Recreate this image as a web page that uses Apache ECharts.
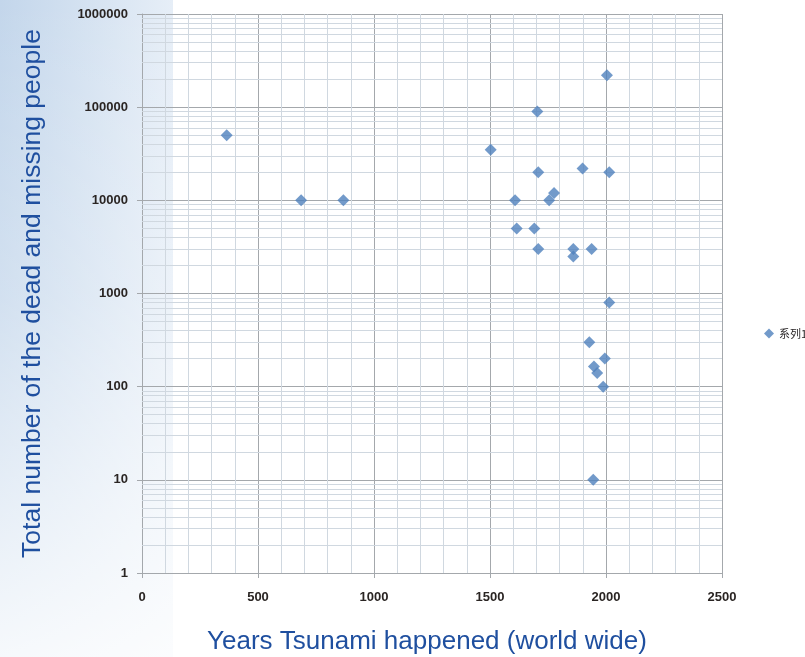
<!DOCTYPE html>
<html>
<head>
<meta charset="utf-8">
<script src="https://cdn.jsdelivr.net/npm/echarts@6/dist/echarts.min.js"></script>
<style>
html,body{margin:0;padding:0;background:#fff;}
#c{width:805px;height:657px;}
</style>
</head>
<body>
<div id="c"></div>
<script>
// Data
const seriesName = '系列1';
const years  = [365, 686, 868, 1503, 1608, 1615, 1691, 1704, 1708, 1708, 1755, 1776, 1859, 1859, 1899, 1928, 1938, 1945, 1948, 1962, 1988, 1995, 2004, 2014, 2014];
const deaths = [50000, 10000, 10000, 35000, 10000, 5000, 5000, 90000, 20000, 3000, 10000, 12000, 3000, 2500, 22000, 300, 3000, 10, 165, 140, 100, 200, 220000, 20000, 800];
const xTickLabels = ['0', '500', '1000', '1500', '2000', '2500'];
const yTickLabels = ['1', '10', '100', '1000', '10000', '100000', '1000000'];
const minorMultipliers = [2, 3, 4, 5, 6, 7, 8, 9];
const xTitle = 'Years Tsunami happened (world wide)';
const yTitle = 'Total number of the dead and missing people';

const points = years.map((y, i) => [y, deaths[i]]);

const minorY = [];
for (let k = 0; k < yTickLabels.length - 1; k++) {
  const base = Number(yTickLabels[k]);
  minorMultipliers.forEach(m => minorY.push({ yAxis: m * base }));
}

const chart = echarts.init(document.getElementById('c'), null, { renderer: 'canvas' });
const tickFont = { fontFamily: 'Liberation Sans, Arial, sans-serif', fontSize: 13, fontWeight: 'bold', color: '#2a2523' };
const titleFont = { fontFamily: 'Liberation Sans, Arial, sans-serif', fontSize: 26, color: '#1f4f9f' };
const majorColor = '#a4a8ac';
const minorColor = '#d0d8e0';

chart.setOption({
  animation: false,
  backgroundColor: '#ffffff',
  graphic: {
    elements: [
      {
        type: 'rect', z: -100, silent: true,
        shape: { x: 0, y: 0, width: 173, height: 657 },
        style: {
          fill: new echarts.graphic.LinearGradient(0, 0, 1, 0, [
            { offset: 0, color: '#c3d6eb' },
            { offset: 1, color: '#e6eef7' }
          ])
        }
      },
      {
        type: 'rect', z: -99, silent: true,
        shape: { x: 0, y: 0, width: 173, height: 657 },
        style: {
          fill: new echarts.graphic.LinearGradient(0, 0, 0, 1, [
            { offset: 0, color: 'rgba(255,255,255,0)' },
            { offset: 0.45, color: 'rgba(255,255,255,0.25)' },
            { offset: 1, color: 'rgba(255,255,255,0.85)' }
          ])
        }
      }
    ]
  },
  grid: { left: 142, right: 83, top: 14, bottom: 84, containLabel: false, outerBoundsMode: 'none' },
  legend: {
    data: [{ name: seriesName, icon: 'diamond' }],
    left: 759, top: 323,
    orient: 'vertical',
    itemWidth: 10, itemHeight: 10,
    textStyle: { fontFamily: 'Noto Sans CJK SC, sans-serif', fontSize: 11, color: '#231f20' }
  },
  xAxis: {
    type: 'value',
    min: 0, max: 2500, interval: 500,
    name: xTitle,
    nameLocation: 'middle',
    nameGap: 56,
    nameTextStyle: Object.assign({ padding: [0, 10, 0, 0] }, titleFont),
    axisLine: { show: true, lineStyle: { color: majorColor, width: 1 } },
    axisTick: { show: true, length: 5, lineStyle: { color: majorColor } },
    axisLabel: Object.assign({ margin: 18, formatter: v => xTickLabels[Math.round(v / 500)] }, tickFont),
    splitLine: { show: true, lineStyle: { color: majorColor, width: 1 } },
    minorTick: { show: false, splitNumber: 5 },
    minorSplitLine: { show: true, lineStyle: { color: minorColor, width: 1 } }
  },
  yAxis: {
    type: 'log', logBase: 10,
    min: 1, max: 1000000, splitNumber: 6,
    name: yTitle,
    nameLocation: 'middle',
    nameGap: 96,
    nameRotate: 90,
    nameTextStyle: Object.assign({}, titleFont, { fontSize: 26.5 }),
    axisLine: { show: true, lineStyle: { color: majorColor, width: 1 } },
    axisTick: { show: true, length: 5, lineStyle: { color: majorColor } },
    axisLabel: Object.assign({ margin: 14, formatter: v => yTickLabels[Math.round(Math.log10(v))] }, tickFont),
    splitLine: { show: true, lineStyle: { color: majorColor, width: 1 } }
  },
  series: [
    {
      name: 'minor',
      type: 'scatter',
      data: [],
      silent: true,
      z: 1,
      markLine: {
        silent: true,
        z: 1,
        symbol: ['none', 'none'],
        label: { show: false },
        lineStyle: { color: minorColor, width: 1, type: 'solid' },
        emphasis: { disabled: true },
        data: minorY
      }
    },
    {
      name: seriesName,
      type: 'scatter',
      symbol: 'diamond',
      symbolSize: 12,
      z: 5,
      itemStyle: { color: '#4f81bd' },
      data: points
    }
  ]
});
</script>
</body>
</html>
